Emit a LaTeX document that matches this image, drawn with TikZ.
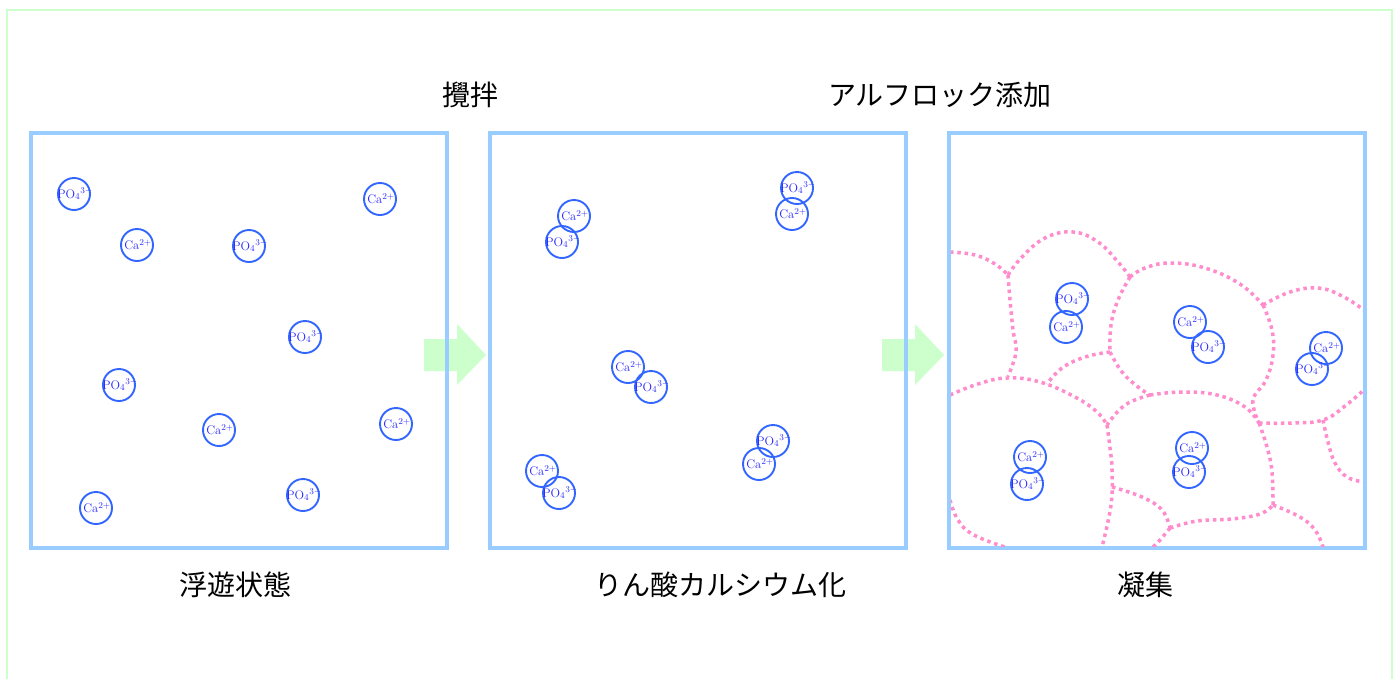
\documentclass[tikz,border=0pt]{standalone}
\usepackage{fontspec}
\newfontfamily\jp{Noto Sans CJK JP}
\definecolor{framegreen}{RGB}{204,255,204}
\definecolor{panelblue}{RGB}{153,204,255}
\definecolor{ionblue}{RGB}{51,102,255}
\definecolor{iontext}{RGB}{40,40,255}
\definecolor{flocpink}{RGB}{255,140,204}
\tikzset{
  panel/.style={draw=panelblue, line width=4pt},
  ion/.style={circle, draw=ionblue, line width=1.9pt, minimum size=32pt, inner sep=0pt},
  ca/.style={ion, label={[text=iontext, font=\fontsize{12.5}{12.5}\selectfont, inner sep=0pt, xshift=1pt]center:Ca$^{2+}$}},
  po/.style={ion, label={[text=iontext, font=\fontsize{12.5}{12.5}\selectfont, inner sep=0pt, xshift=1pt]center:PO$_4{}^{3-}$}},
  jplabel/.style={font=\jp\fontsize{28}{28}\selectfont, text=black, inner sep=0pt},
  floc/.style={draw=flocpink, line width=3.5pt, dash pattern=on 3.5pt off 3.8pt},
  blockarrow/.style={fill=framegreen, draw=none},
}
\begin{document}
\begin{tikzpicture}[x=1pt, y=-1pt]
\useasboundingbox (0,0) rectangle (1400,678);
\fill[white] (0,0) rectangle (1400,678);
\begin{scope}
\clip (0,0) rectangle (1400,678);
\draw[framegreen, line width=1.5pt] (7,700) -- (7,10) -- (1392,10) -- (1392,700);
\end{scope}

% block arrows
\fill[blockarrow] (424,339) -- (457,339) -- (457,324) -- (486,355) -- (457,385) -- (457,371) -- (424,371) -- cycle;
\fill[blockarrow] (882,339) -- (915,339) -- (915,324) -- (944,355) -- (915,385) -- (915,371) -- (882,371) -- cycle;

% panels
\node[panel, minimum width=416pt, minimum height=415pt, inner sep=0pt] (panelA) at (239,340.5) {};
\node[panel, minimum width=416pt, minimum height=415pt, inner sep=0pt] (panelB) at (698,340.5) {};
\node[panel, minimum width=416pt, minimum height=415pt, inner sep=0pt] (panelC) at (1157,340.5) {};

% labels
\node[jplabel] (lstir) at (470,95) {攪拌};
\node[jplabel] (lfloc) at (940,95) {アルフロック添加};
\node[jplabel] (lsusp) at (235,585) {浮遊状態};
\node[jplabel] (lcap) at (720,585) {りん酸カルシウム化};
\node[jplabel] (lagg) at (1145,585) {凝集};

% panel 1 ions
\node[po] (a1) at (74,194) {};
\node[ca] (a2) at (380,199) {};
\node[ca] (a3) at (137,245) {};
\node[po] (a4) at (249,246) {};
\node[po] (a5) at (305,337) {};
\node[po] (a6) at (119,385) {};
\node[ca] (a7) at (219,430) {};
\node[ca] (a8) at (396,424) {};
\node[po] (a9) at (303,495) {};
\node[ca] (a10) at (96,508) {};

% panel 2 ions
\node[ca] (b1) at (574,216) {};
\node[po] (b2) at (562,242) {};
\node[po] (b3) at (797,188) {};
\node[ca] (b4) at (792,214) {};
\node[ca] (b5) at (628,367) {};
\node[po] (b6) at (651,387) {};
\node[po] (b7) at (773,441) {};
\node[ca] (b8) at (759,464) {};
\node[ca] (b9) at (542,471) {};
\node[po] (b10) at (559,493) {};

% panel 3 floc boundaries
\begin{scope}
\clip (951,135) rectangle (1363,546);
\draw[floc] plot[smooth, tension=0.7] coordinates {(950,252) (975,255) (995,264) (1008,275)};
\draw[floc] plot[smooth, tension=0.7] coordinates {(1008,275) (1022,257) (1045,238) (1073,232) (1098,242) (1118,262) (1130,277)};
\draw[floc] plot[smooth, tension=0.7] coordinates {(1008,275) (1010,300) (1013,330) (1016,352) (1008,376)};
\draw[floc] plot[smooth, tension=0.7] coordinates {(1130,277) (1145,268) (1170,263) (1205,268) (1240,284) (1263,305)};
\draw[floc] plot[smooth, tension=0.7] coordinates {(1130,277) (1118,300) (1111,325) (1110,352)};
\draw[floc] plot[smooth, tension=0.7] coordinates {(1110,352) (1085,357) (1062,368) (1047,384)};
\draw[floc] plot[smooth, tension=0.7] coordinates {(1110,352) (1122,372) (1138,387) (1150,395)};
\draw[floc] plot[smooth, tension=0.7] coordinates {(950,395) (978,384) (1007,378) (1040,382) (1075,397) (1097,412) (1107,425)};
\draw[floc] plot[smooth, tension=0.7] coordinates {(1150,395) (1182,392) (1217,395) (1245,407) (1259,423)};
\draw[floc] plot[smooth, tension=0.7] coordinates {(1150,395) (1125,405) (1107,425)};
\draw[floc] plot[smooth, tension=0.7] coordinates {(1263,305) (1272,330) (1273,355) (1266,380) (1253,400) (1259,423)};
\draw[floc] plot[smooth, tension=0.7] coordinates {(1263,305) (1290,292) (1318,288) (1342,296) (1364,310)};
\draw[floc] plot[smooth, tension=0.7] coordinates {(1259,423) (1292,423) (1323,420) (1345,406) (1366,388)};
\draw[floc] plot[smooth, tension=0.7] coordinates {(1323,420) (1328,442) (1335,463) (1347,477) (1364,482)};
\draw[floc] plot[smooth, tension=0.7] coordinates {(1107,425) (1110,448) (1112,470) (1111,505) (1102,547)};
\draw[floc] plot[smooth, tension=0.7] coordinates {(1112,487) (1142,497) (1162,510) (1170,528)};
\draw[floc] plot[smooth, tension=0.7] coordinates {(1170,528) (1160,540) (1152,548)};
\draw[floc] plot[smooth, tension=0.7] coordinates {(1170,528) (1197,521) (1232,519) (1260,514) (1273,505)};
\draw[floc] plot[smooth, tension=0.7] coordinates {(1259,423) (1267,447) (1272,472) (1273,505)};
\draw[floc] plot[smooth, tension=0.7] coordinates {(1273,505) (1300,517) (1315,530) (1323,547)};
\draw[floc] plot[smooth, tension=0.7] coordinates {(950,500) (958,520) (974,535) (1008,548)};
\end{scope}

% panel 3 ions
\node[po] (c1) at (1072,299) {};
\node[ca] (c2) at (1066,327) {};
\node[ca] (c3) at (1190,322) {};
\node[po] (c4) at (1208,347) {};
\node[ca] (c5) at (1326,348) {};
\node[po] (c6) at (1312,369) {};
\node[ca] (c7) at (1030,457) {};
\node[po] (c8) at (1027,484) {};
\node[ca] (c9) at (1192,448) {};
\node[po] (c10) at (1189,472) {};
\end{tikzpicture}
\end{document}
